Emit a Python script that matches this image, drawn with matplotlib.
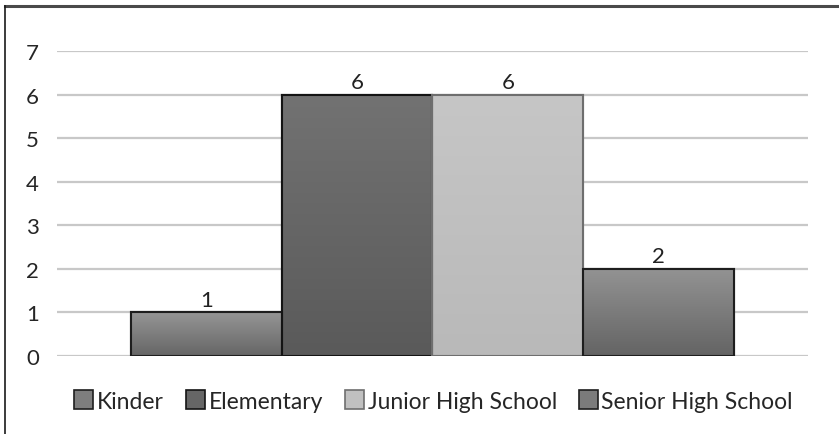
import matplotlib
matplotlib.use("Agg")
import matplotlib.pyplot as plt
import numpy as np
from matplotlib.patches import Patch
from matplotlib.lines import Line2D

plt.rcParams['font.family'] = ['Lato', 'DejaVu Sans']

series = ["Kinder", "Elementary", "Junior High School", "Senior High School"]
values = [1, 6, 6, 2]
top_colors = ["#959595", "#727272", "#c6c6c6", "#939393"]
bottom_colors = ["#666666", "#5a5a5a", "#b9b9b9", "#646464"]
edge_colors = ["#1e1e1e", "#141414", "#6e6e6e", "#1e1e1e"]
yticks = [0, 1, 2, 3, 4, 5, 6, 7]

W, H = 839, 435
fig = plt.figure(figsize=(W / 100, H / 100), dpi=100)
ax = fig.add_axes([57 / W, 1 - 357 / H, (808 - 57) / W, (357 - 52) / H])

x = np.arange(len(series))
bars = ax.bar(x, values, width=1.0, color=top_colors, edgecolor=edge_colors,
              linewidth=1.5, zorder=3)

def hex2rgb(h):
    h = h.lstrip('#')
    return np.array([int(h[i:i + 2], 16) / 255 for i in (0, 2, 4)])

for b, tc, bc in zip(bars, top_colors, bottom_colors):
    t = np.linspace(0, 1, 64)[:, None]
    grad = (1 - t) * hex2rgb(tc)[None, :] + t * hex2rgb(bc)[None, :]
    img = grad[:, None, :]
    x0, y0 = b.get_x(), b.get_y()
    im = ax.imshow(img, extent=[x0, x0 + b.get_width(), y0, y0 + b.get_height()],
                   aspect='auto', zorder=3.5, origin='upper', interpolation='bilinear')
    im.set_clip_path(b)
    ax.add_patch(plt.Rectangle((x0, y0), b.get_width(), b.get_height(),
                               fill=False, edgecolor=b.get_edgecolor(),
                               linewidth=1.5, zorder=4))

ax.bar_label(bars, labels=[str(v) for v in values], padding=2,
             fontsize=16, color="#222222", zorder=5)

ax.set_xlim(-0.99, 3.99)
ax.set_ylim(0, 7)
ax.set_yticks(yticks)
ax.set_yticklabels([str(t) for t in yticks], fontsize=16, color="#262626")
ax.set_xticks([])
ax.tick_params(axis='y', length=0, pad=13)
for s in ax.spines.values():
    s.set_visible(False)
ax.yaxis.grid(True, color="#c8c8c8", linewidth=1.6, zorder=0)
ax.set_axisbelow(True)

handles = [Patch(facecolor=(hex2rgb(t) + hex2rgb(b)) / 2, edgecolor=e, linewidth=1.2)
           for t, b, e in zip(top_colors, bottom_colors, edge_colors)]
fig.legend(handles, series, loc='center', bbox_to_anchor=(433.5 / W, 1 - 402 / H),
           ncol=4, frameon=False, fontsize=16.5, handlelength=0.85, handleheight=0.85,
           handletextpad=0.15, columnspacing=0.95, labelcolor="#262626")

fig.add_artist(Line2D([4.5 / W, 1], [1 - 7 / H, 1 - 7 / H], transform=fig.transFigure,
                      color="#4a4a4a", linewidth=2.2))
fig.add_artist(Line2D([4.5 / W, 4.5 / W], [0, 1 - 7 / H], transform=fig.transFigure,
                      color="#1a1a1a", linewidth=1.2))

fig.savefig("out.png", dpi=100)
